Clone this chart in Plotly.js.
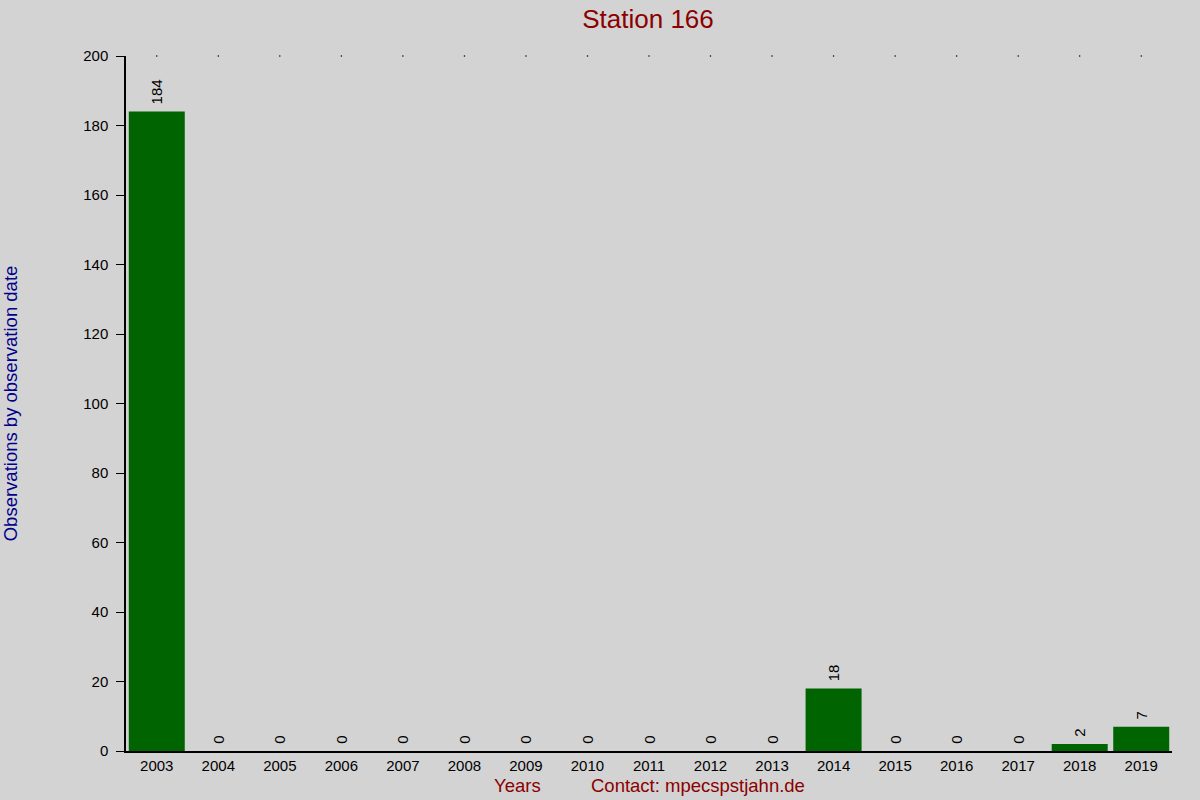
<!DOCTYPE html>
<html>
<head>
<meta charset="utf-8">
<script src="https://cdn.plot.ly/plotly-3.0.1.min.js"></script>
<style>body{margin:0;background:#d3d3d3;}</style>
</head>
<body>
<div id="myDiv" style="width:1200px;height:800px;"></div>
<script>
var years = ['2003','2004','2005','2006','2007','2008','2009','2010','2011',
  '2012','2013','2014','2015','2016','2017','2018','2019'];
var counts = [184,0,0,0,0,0,0,0,0,0,0,18,0,0,0,2,7];
var topDots = years.map(function () { return 200; });

var bars = {
  x: years,
  y: counts,
  type: 'bar',
  marker: {color: '#006400'},
  // leading nbsp lifts the rotated label off the bar top
  text: counts.map(function (v) { return '\u00a0' + v; }),
  textposition: 'outside',
  textangle: -90,
  textfont: {family: 'Liberation Sans, Arial', size: 15, color: '#000'},
  cliponaxis: false,
  hoverinfo: 'x+y'
};

// little dots along the top edge
var dots = {
  x: years,
  y: topDots,
  type: 'scatter',
  mode: 'markers',
  marker: {color: '#000', size: 1.5},
  cliponaxis: false,
  hoverinfo: 'skip'
};

var layout = {
  width: 1200,
  height: 800,
  paper_bgcolor: '#d3d3d3',
  plot_bgcolor: '#d3d3d3',
  showlegend: false,
  bargap: 0.09,
  font: {family: 'Liberation Sans, Arial', size: 15, color: '#000'},
  margin: {l: 126, r: 28, t: 56, b: 49},
  title: {
    text: 'Station 166',
    font: {size: 26, color: '#8b0000'},
    x: 0.54, xanchor: 'center', y: 0.977, yanchor: 'middle'
  },
  xaxis: {
    type: 'category',
    range: [-0.5, 16.5],
    showline: true, linecolor: '#000', linewidth: 1.5,
    ticks: '', showgrid: false, zeroline: false,
    tickfont: {size: 15}
  },
  yaxis: {
    range: [0, 200],
    dtick: 20,
    showline: true, linecolor: '#000', linewidth: 1.5,
    ticks: 'outside', ticklen: 8, tickcolor: '#000',
    ticklabelstandoff: 5,
    showgrid: false, zeroline: false,
    tickfont: {size: 15},
    title: {text: 'Observations by observation date', font: {size: 18.5, color: '#00008b'}, standoff: 62}
  },
  annotations: [
    {text: 'Years', xref: 'paper', yref: 'paper', x: (517 - 126) / 1046, y: -0.05,
     xanchor: 'center', yanchor: 'middle', showarrow: false, font: {size: 18.5, color: '#8b0000'}},
    {text: 'Contact: mpecspstjahn.de', xref: 'paper', yref: 'paper', x: (698 - 126) / 1046, y: -0.05,
     xanchor: 'center', yanchor: 'middle', showarrow: false, font: {size: 18.5, color: '#8b0000'}}
  ]
};

Plotly.newPlot('myDiv', [bars, dots], layout, {displayModeBar: false});
</script>
</body>
</html>
